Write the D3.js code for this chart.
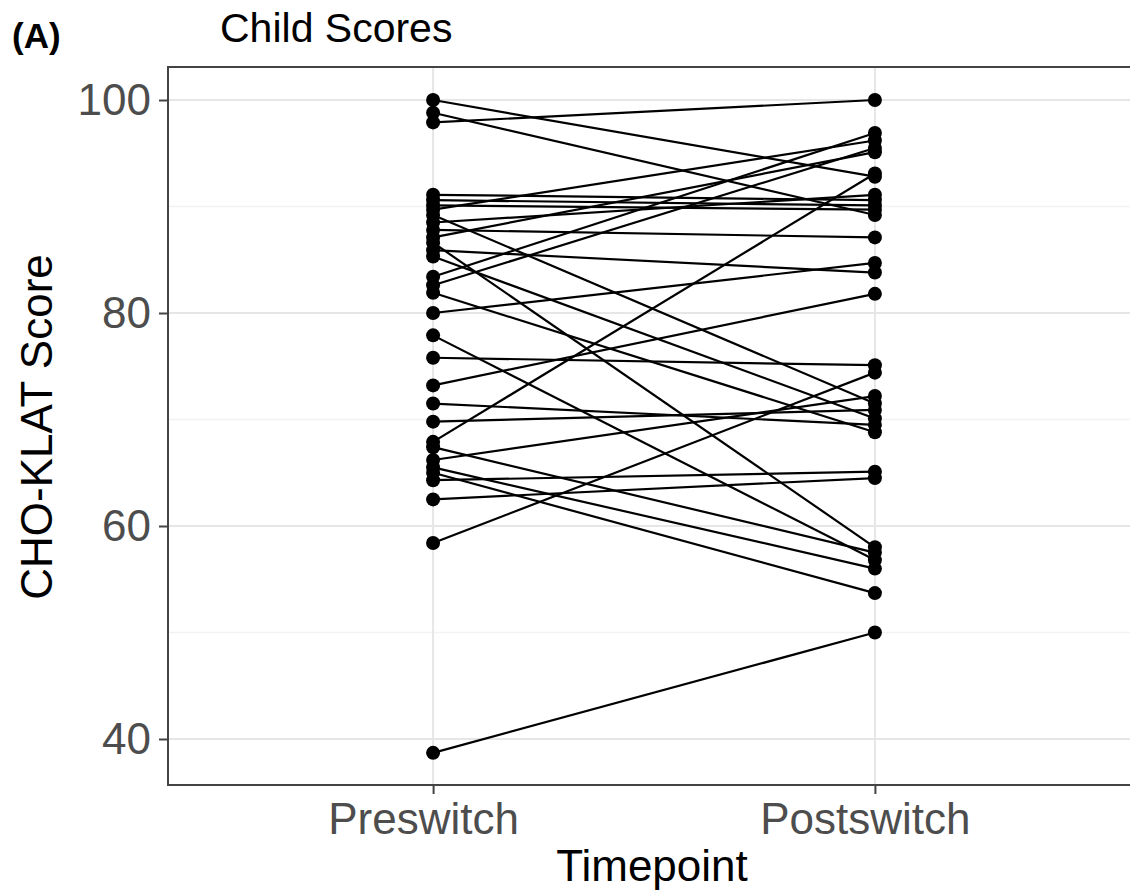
<!DOCTYPE html>
<html>
<head>
<meta charset="utf-8">
<script src="https://cdn.jsdelivr.net/npm/d3@7"></script>
<style>
  body { margin: 0; background: #fff; }
  svg text { font-family: "Liberation Sans", Arial, sans-serif; }
</style>
</head>
<body>
<svg id="chart" width="1130" height="893"></svg>
<script>
// paired scores, one entry per child (index i of pre goes with index i of post)
var timepoints = ["Preswitch", "Postswitch"];
var preScores  = [100, 98.8, 97.9, 91.1, 90.6, 90.1, 89.7, 89.2, 88.5, 87.8,
                  87.1, 86.6, 85.9, 85.3, 83.4, 82.6, 81.9, 80.0, 77.9, 75.8,
                  73.2, 71.5, 69.8, 67.9, 67.4, 66.2, 65.5, 65.0, 64.3, 62.5,
                  58.4, 38.7];
var postScores = [92.8, 89.2, 100, 90.6, 90.1, 89.7, 96.2, 71.5, 91.1, 87.1,
                  95.1, 58.0, 83.8, 70.1, 96.9, 95.5, 68.8, 84.7, 56.8, 75.1,
                  81.8, 69.5, 70.9, 93.1, 57.5, 72.2, 56.0, 53.7, 65.1, 64.5,
                  74.4, 50.0];
var majorTicks = [40, 60, 80, 100];
var minorTicks = [50, 70, 90];

var svg = d3.select("#chart");

var panel = { left: 168, right: 1140, top: 67, bottom: 785 };

var x = d3.scalePoint()
  .domain(timepoints)
  .range([panel.left, panel.right])
  .padding(0.6);

var y = d3.scaleLinear()
  .domain([35.68, 103.1])
  .range([panel.bottom, panel.top]);

var pairs = preScores.map(function(d, i){ return [d, postScores[i]]; });

// grid
var grid = svg.append("g").attr("class", "grid");
grid.selectAll(".minor").data(minorTicks).enter().append("line")
  .attr("x1", panel.left).attr("x2", panel.right)
  .attr("y1", function(d){ return y(d); }).attr("y2", function(d){ return y(d); })
  .attr("stroke", "#f2f2f2").attr("stroke-width", 1.5);
grid.selectAll(".major").data(majorTicks).enter().append("line")
  .attr("x1", panel.left).attr("x2", panel.right)
  .attr("y1", function(d){ return y(d); }).attr("y2", function(d){ return y(d); })
  .attr("stroke", "#e6e6e6").attr("stroke-width", 2);
grid.selectAll(".vmajor").data(timepoints).enter().append("line")
  .attr("x1", function(d){ return x(d); }).attr("x2", function(d){ return x(d); })
  .attr("y1", panel.top).attr("y2", panel.bottom)
  .attr("stroke", "#e6e6e6").attr("stroke-width", 2);

// lines + points
var line = d3.line()
  .x(function(d, i){ return x(timepoints[i]); })
  .y(function(d){ return y(d); });

svg.append("g").attr("class", "lines")
  .selectAll("path").data(pairs).enter().append("path")
  .attr("d", line)
  .attr("fill", "none")
  .attr("stroke", "#000")
  .attr("stroke-width", 2.2);

var pts = svg.append("g").attr("class", "points");
pts.selectAll(".pre").data(preScores).enter().append("circle")
  .attr("cx", x(timepoints[0])).attr("cy", function(d){ return y(d); })
  .attr("r", 7).attr("fill", "#000");
pts.selectAll(".post").data(postScores).enter().append("circle")
  .attr("cx", x(timepoints[1])).attr("cy", function(d){ return y(d); })
  .attr("r", 7).attr("fill", "#000");

// panel border
svg.append("rect")
  .attr("x", panel.left).attr("y", panel.top)
  .attr("width", panel.right - panel.left).attr("height", panel.bottom - panel.top)
  .attr("fill", "none").attr("stroke", "#444").attr("stroke-width", 2);

// axes
var yAxis = d3.axisLeft(y).tickValues(majorTicks).tickSize(9).tickPadding(8);
var yg = svg.append("g").attr("transform", "translate(" + panel.left + ",0)").call(yAxis);
var xAxis = d3.axisBottom(x).tickSize(9).tickPadding(8);
var xg = svg.append("g").attr("transform", "translate(0," + panel.bottom + ")").call(xAxis);

[yg, xg].forEach(function(g){
  g.select(".domain").remove();
  g.selectAll(".tick line").attr("stroke", "#444").attr("stroke-width", 2);
  g.selectAll(".tick text")
    .attr("fill", "#4d4d4d")
    .style("font-size", "44px")
    .style("font-family", "'Liberation Sans', Arial, sans-serif");
});
yg.selectAll(".tick text").attr("x", -17);
xg.selectAll(".tick text").attr("y", 18).attr("x", -10);

// titles
svg.append("text")
  .attr("x", (panel.left + panel.right) / 2 - 2).attr("y", 881)
  .attr("text-anchor", "middle")
  .style("font-size", "44px").attr("fill", "#000")
  .text("Timepoint");

svg.append("text")
  .attr("transform", "translate(52," + ((panel.top + panel.bottom) / 2 + 1) + ") rotate(-90)")
  .attr("text-anchor", "middle")
  .style("font-size", "44px").attr("fill", "#000")
  .text("CHO-KLAT Score");

svg.append("text")
  .attr("x", 220).attr("y", 42)
  .style("font-size", "41px").attr("fill", "#000")
  .text("Child Scores");

svg.append("text")
  .attr("x", 12).attr("y", 48)
  .style("font-size", "35px").style("font-weight", "bold").attr("fill", "#000")
  .text("(A)");
</script>
</body>
</html>
